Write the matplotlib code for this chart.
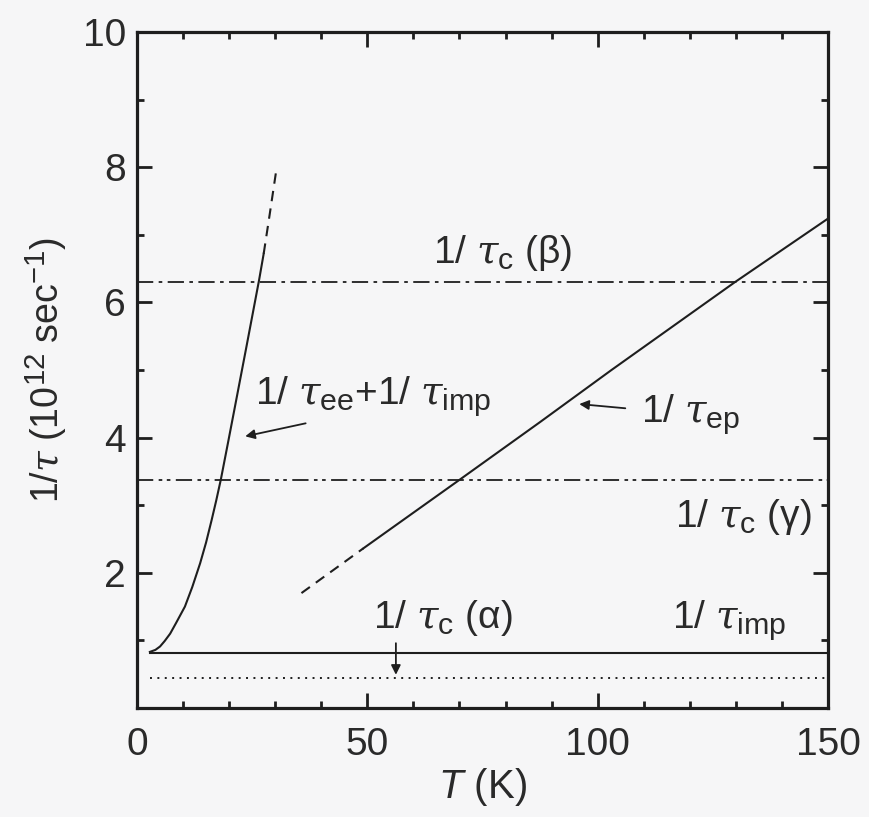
import matplotlib
matplotlib.use("Agg")
import matplotlib.pyplot as plt
from matplotlib.ticker import MultipleLocator

try:
    import matplotlib._mathtext as _mt
    _mt.SHRINK_FACTOR = 0.78
except Exception:
    pass

plt.rcParams['font.family'] = ['Liberation Sans', 'DejaVu Sans']
plt.rcParams['mathtext.fontset'] = 'custom'
plt.rcParams['mathtext.rm'] = 'Liberation Sans'
plt.rcParams['mathtext.it'] = 'DejaVu Serif:italic'
plt.rcParams['mathtext.sf'] = 'Liberation Sans:italic'
plt.rcParams['mathtext.bf'] = 'Liberation Sans:bold'

# ---- data ----
# 1/tau_ee + 1/tau_imp (solid part)
ee_T = [2.8, 4.0, 5.0, 6.0, 7.2, 8.5, 10.4, 12.0, 13.7, 15.0, 16.2, 17.2,
        18.2, 19.8, 21.1, 23.8, 26.5, 27.5]
ee_y = [0.83, 0.86, 0.91, 0.99, 1.10, 1.26, 1.50, 1.79, 2.14, 2.45, 2.78, 3.07,
        3.38, 3.94, 4.40, 5.36, 6.33, 6.72]
# extrapolated (dashed) part
ee_ext_T = [27.5, 28.8, 30.2]
ee_ext_y = [6.72, 7.30, 7.94]

# 1/tau_ep (solid part)
ep_T = [49.1, 70.1, 87.5, 103.0, 129.8, 150.0]
ep_y = [2.36, 3.38, 4.23, 5.00, 6.30, 7.24]
# extrapolated (dashed) part
ep_ext_T = [35.7, 49.1]
ep_ext_y = [1.70, 2.36]

# horizontal levels
imp_level = 0.82      # 1/tau_imp
imp_T = [2.8, 150]
alpha_level = 0.45    # 1/tau_c (alpha)
alpha_T = [2.8, 150]
beta_level = 6.30     # 1/tau_c (beta)
gamma_level = 3.38    # 1/tau_c (gamma)
level_T = [0, 150]

x_ticks = [0, 50, 100, 150]
y_ticks = [2, 4, 6, 8, 10]

# ---- figure ----
fig = plt.figure(figsize=(8.7, 8.17), dpi=100)
bg = '#f6f6f7'
fig.patch.set_facecolor(bg)
ax = fig.add_axes([137/870, 1-708/817, (828-137)/870, (708-32)/817])
ax.set_facecolor(bg)

lc = '#1e1e1e'
lw = 1.5

ax.plot(ee_T, ee_y, color=lc, lw=lw)
ax.plot(ee_ext_T, ee_ext_y, color=lc, lw=lw, dashes=(5, 3.5))
ax.plot(ep_T, ep_y, color=lc, lw=lw)
ax.plot(ep_ext_T, ep_ext_y, color=lc, lw=lw, dashes=(5, 3.5))

ax.plot(imp_T, [imp_level]*2, color=lc, lw=lw)
ax.plot(alpha_T, [alpha_level]*2, color=lc, lw=1.4, dashes=(1.0, 2.8))
ax.plot(level_T, [beta_level]*2, color=lc, lw=1.3,
        dashes=(9, 3, 2, 3))
ax.plot(level_T, [gamma_level]*2, color=lc, lw=1.3,
        dashes=(9, 3, 2, 2.5, 2, 3))

ax.set_xlim(0, 150)
ax.set_ylim(0, 10)
ax.set_xticks(x_ticks)
ax.set_yticks(y_ticks)
ax.xaxis.set_minor_locator(MultipleLocator(10))
ax.yaxis.set_minor_locator(MultipleLocator(1))
tc = '#2a2a2a'
ax.tick_params(which='both', direction='in', top=True, right=True,
               colors=lc, labelcolor=tc, labelsize=28)
ax.tick_params(which='major', length=11, width=2)
ax.tick_params(which='minor', length=5, width=2)
ax.tick_params(axis='x', which='major', pad=14)
ax.tick_params(axis='y', which='major', pad=8)
for s in ax.spines.values():
    s.set_linewidth(2.3)
    s.set_color(lc)

ax.set_xlabel(r'$\mathsf{T}$ (K)', fontsize=29, color=tc, labelpad=2)
ax.set_ylabel(r'1/$\tau$ (10$^{12}$ sec$^{-1}$)', fontsize=27, color=tc, labelpad=10)

fs = 28
ax.text(64.2, 6.59, r'1/ $\tau_{\mathrm{c}}$ (β)', fontsize=fs, color=tc, va='baseline')
ax.text(25.6, 4.50, r'1/ $\tau_{\mathrm{ee}}$+1/ $\tau_{\mathrm{imp}}$', fontsize=fs, color=tc, va='baseline')
ax.text(109.5, 4.23, r'1/ $\tau_{\mathrm{ep}}$', fontsize=fs, color=tc, va='baseline')
ax.text(116.8, 2.68, r'1/ $\tau_{\mathrm{c}}$ (γ)', fontsize=fs, color=tc, va='baseline')
ax.text(116.1, 1.18, r'1/ $\tau_{\mathrm{imp}}$', fontsize=fs, color=tc, va='baseline')
ax.text(51.3, 1.18, r'1/ $\tau_{\mathrm{c}}$ (α)', fontsize=fs, color=tc, va='baseline')

arrow = dict(arrowstyle='-|>', color=lc, lw=1.3, mutation_scale=14)
ax.annotate('', xy=(22.9, 4.01), xytext=(37.2, 4.22), arrowprops=arrow)
ax.annotate('', xy=(95.4, 4.50), xytext=(106.6, 4.43), arrowprops=arrow)
ax.annotate('', xy=(56.2, 0.45), xytext=(56.2, 1.0), arrowprops=arrow)

fig.savefig('out.png', dpi=100, facecolor=bg)
